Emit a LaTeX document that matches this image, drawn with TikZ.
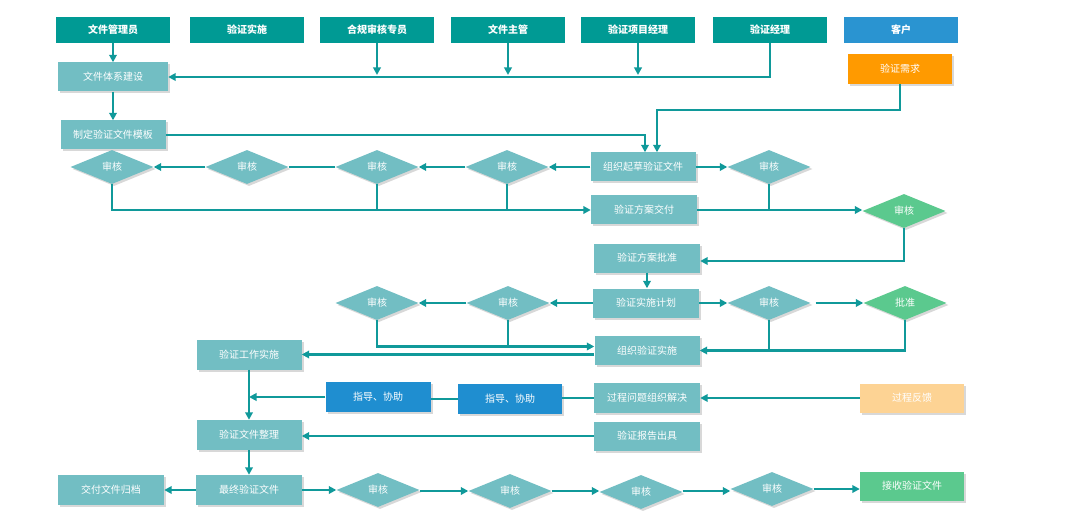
\documentclass[tikz,border=0pt]{standalone}
\usepackage{fontspec}
\newfontfamily\cjk{Noto Sans CJK SC}
\usetikzlibrary{shapes.geometric,shadows,arrows.meta}
\definecolor{hdr}{HTML}{009A94}
\definecolor{lt}{HTML}{72BEC3}
\definecolor{gr}{HTML}{5BC98E}
\definecolor{bl}{HTML}{2A94D1}
\definecolor{bl2}{HTML}{1F8ED0}
\definecolor{org}{HTML}{FF9A00}
\definecolor{lorg}{HTML}{FDD394}
\definecolor{ln}{HTML}{10999A}
\tikzset{
  base/.style={font=\cjk\fontsize{10}{12}\selectfont, text=white, inner sep=0pt},
  hbox/.style={base, rectangle, fill=hdr, minimum width=114pt, minimum height=26pt, font=\cjk\bfseries\fontsize{10}{12}\selectfont},
  sh/.style={drop shadow={shadow xshift=2pt, shadow yshift=-2pt, opacity=0.3, fill=gray}},
  pbox/.style={base, rectangle, fill=lt, minimum width=105pt, minimum height=29pt, sh},
  dia/.style={base, diamond, fill=lt, minimum width=83pt, minimum height=34pt, sh},
  arr/.style={draw=ln, line width=2.2pt, -{Triangle[length=7.5pt,width=7.5pt]}},
  ln/.style={draw=ln, line width=2.2pt},
}
\begin{document}
\begin{tikzpicture}[x=1pt,y=-1pt]
\useasboundingbox[fill=white] (0,0) rectangle (1080,516);
% headers
\node[hbox] (hA) at (113,30) {文件管理员};
\node[hbox] (hB) at (247,30) {验证实施};
\node[hbox] (hC) at (377,30) {合规审核专员};
\node[hbox] (hD) at (508,30) {文件主管};
\node[hbox] (hE) at (638,30) {验证项目经理};
\node[hbox] (hF) at (770,30) {验证经理};
\node[hbox, fill=bl] (hG) at (901,30) {客户};
% process nodes
\node[pbox, minimum width=110pt] (tx) at (113,77) {文件体系建设};
\node[pbox, fill=org, minimum width=104pt, minimum height=30pt] (req) at (900,69) {验证需求};
\node[pbox] (tpl) at (113,135) {制定验证文件模板};
\node[pbox] (draft) at (643,167) {组织起草验证文件};
\node[dia] (dR1) at (769,167) {审核};
\node[dia] (dL1) at (112,167) {审核};
\node[dia] (dL2) at (247,167) {审核};
\node[dia] (dL3) at (377,167) {审核};
\node[dia] (dL4) at (507,167) {审核};
\node[pbox, minimum width=106pt] (deliv) at (644,210) {验证方案交付};
\node[dia, fill=gr] (gd1) at (904,211) {审核};
\node[pbox, minimum width=106pt] (appr) at (647,258) {验证方案批准};
\node[pbox, minimum width=106pt] (plan) at (646,303) {验证实施计划};
\node[dia] (dR2) at (769,303) {审核};
\node[dia, fill=gr] (ok) at (905,303) {批准};
\node[dia] (dA) at (377,303) {审核};
\node[dia] (dB) at (508,303) {审核};
\node[pbox] (orgv) at (647,350.5) {组织验证实施};
\node[pbox, minimum height=30pt] (work) at (249,354.5) {验证工作实施};
\node[pbox, fill=bl2, minimum height=30pt] (g1) at (378,397) {指导、协助};
\node[pbox, fill=bl2, minimum width=104pt, minimum height=30pt] (g2) at (510,399) {指导、协助};
\node[pbox, minimum width=106pt, minimum height=30pt] (solve) at (647,398) {过程问题组织解决};
\node[pbox, fill=lorg, minimum width=104pt] (fb) at (912,398) {过程反馈};
\node[pbox, minimum height=30pt] (tidy) at (249,435) {验证文件整理};
\node[pbox, minimum width=106pt] (report) at (647,436) {验证报告出具};
\node[pbox, minimum width=106pt, minimum height=30pt] (final) at (249,490) {最终验证文件};
\node[pbox, minimum width=106pt, minimum height=30pt] (arch) at (111,490) {交付文件归档};
\node[dia] (b1) at (378,490) {审核};
\node[dia] (b2) at (510,491) {审核};
\node[dia] (b3) at (641,492) {审核};
\node[dia] (b4) at (772,489) {审核};
\node[pbox, fill=gr, minimum width=104pt] (recv) at (912,486) {接收验证文件};
\coordinate (orgU) at ([yshift=4pt]orgv.west);
\coordinate (orgL) at ([yshift=-4pt]orgv.west);
\coordinate (apprR) at ([yshift=-3pt]appr.east);
\coordinate (draftA) at ([xshift=2pt]draft.north);
\coordinate (draftB) at ([xshift=14pt]draft.north);
% connectors
\draw[arr] (hA.south) -- (tx.north);
\draw[arr] (hF.south) |- (tx.east);
\draw[arr] (hC.south) -- ([yshift=2pt]hC.south |- tx.east);
\draw[arr] (hD.south) -- ([yshift=2pt]hD.south |- tx.east);
\draw[arr] (hE.south) -- ([yshift=2pt]hE.south |- tx.east);
\draw[arr] (tx.south) -- (tpl.north);
\draw[arr] (tpl.east) -| (draftA);
\draw[arr] (req.south) -- ++(0,26) -| (draftB);
\draw[arr] (draft.east) -- (dR1.west);
\draw[arr] (draft.west) -- (dL4.east);
\draw[arr] (dL4.west) -- (dL3.east);
\draw[ln] (dL3.west) -- (dL2.east);
\draw[arr] (dL2.west) -- (dL1.east);
\draw[arr] (dL1.south) |- (deliv.west);
\draw[ln] (dL3.south) -- (dL3.south |- deliv.west);
\draw[ln] (dL4.south) -- (dL4.south |- deliv.west);
\draw[arr] (deliv.east) -- (deliv.east -| gd1.west);
\draw[ln] (dR1.south) -- (dR1.south |- deliv.east);
\draw[arr] (gd1.south) |- (apprR);
\draw[arr] (appr.south) -- (appr.south |- plan.north);
\draw[arr] (plan.east) -- (dR2.west);
\draw[arr] ([xshift=5pt]dR2.east) -- (ok.west);
\draw[arr] (ok.south) |- (orgv.east);
\draw[ln] (dR2.south) -- (dR2.south |- orgv.east);
\draw[arr] (plan.west) -- (dB.east);
\draw[arr] (dB.west) -- (dA.east);
\draw[arr] (dA.south) |- (orgU);
\draw[ln] (dB.south) -- (dB.south |- orgU);
\draw[arr] (orgL) -- (orgL -| work.east);
\draw[arr] (work.south) -- (tidy.north);
\draw[arr] (g1.west) -- (work.south |- g1.west);
\draw[ln] (g2.west) -- (g2.west -| g1.east);
\draw[ln] (solve.west) -- (solve.west -| g2.east);
\draw[arr] (fb.west) -- (solve.east);
\draw[arr] (report.west) -- (report.west -| tidy.east);
\draw[arr] (tidy.south) -- (final.north);
\draw[arr] (final.west) -- (arch.east);
\draw[arr] (final.east) -- (final.east -| b1.west);
\draw[arr] ([yshift=-1pt]b1.east) -- ([yshift=-1pt]b1.east -| b2.west);
\draw[arr] ([yshift=-1pt]b1.east -| b2.east) -- ([yshift=-1pt]b1.east -| b3.west);
\draw[arr] ([yshift=-1pt]b1.east -| b3.east) -- ([yshift=-1pt]b1.east -| b4.west);
\draw[arr] (b4.east) -- (b4.east -| recv.west);
\end{tikzpicture}
\end{document}
